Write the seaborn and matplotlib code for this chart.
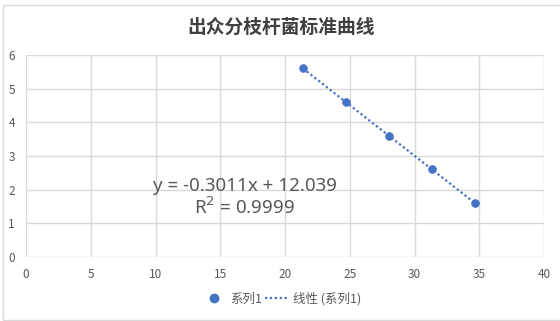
import numpy as np
import pandas as pd
import matplotlib
matplotlib.use("Agg")
import matplotlib.pyplot as plt
from matplotlib.lines import Line2D
from matplotlib.patches import Rectangle
import seaborn as sns

# 数据 (Ct 值 vs log 浓度)
ct_values = [21.38, 24.71, 28.03, 31.35, 34.67]
log_conc = [5.6, 4.6, 3.6, 2.6, 1.6]
x_ticks = [0, 5, 10, 15, 20, 25, 30, 35, 40]
y_ticks = [0, 1, 2, 3, 4, 5, 6]

df = pd.DataFrame({"x": ct_values, "y": log_conc})

sns.set_style("white")
plt.rcParams['font.family'] = ['Noto Sans CJK SC', 'DejaVu Sans']

blue = "#4472c4"
grey = "#595959"

fig = plt.figure(figsize=(5.6, 3.21), dpi=100)
ax = fig.add_axes([26/560, 1 - 257/321, (544 - 26)/560, (257 - 55)/321])

sns.regplot(data=df, x="x", y="y", scatter=False, ci=None, ax=ax,
            line_kws=dict(color=blue, lw=1.6, linestyle=(0, (1, 1.2))))
sns.scatterplot(data=df, x="x", y="y", ax=ax, color=blue, s=32,
                edgecolor=blue, zorder=3)

ax.set_xlim(0, 40)
ax.set_ylim(0, 6)
ax.set_xticks(x_ticks)
ax.set_yticks(y_ticks)
ax.grid(True, color="#d9d9d9", lw=1)
for s in ax.spines.values():
    s.set_visible(False)
ax.tick_params(length=0, labelsize=8.5, colors=grey, pad=8)
ax.set_xlabel("")
ax.set_ylabel("")

# 趋势线公式
ax.text(16.9, 1.77, "y = -0.3011x + 12.039\nR$^2$ = 0.9999", ha="center",
        va="center", fontsize=13.5, color=grey, family="Noto Sans",
        linespacing=1.1)

fig.text(281/560, 1 - 27/321, "出众分枝杆菌标准曲线", ha="center", va="center",
         fontsize=13.5, fontweight="bold", color="#404040")

handles = [Line2D([], [], marker="o", color=blue, linestyle="none", markersize=6),
           Line2D([], [], color=blue, lw=1.6, linestyle=(0, (1, 1.2)))]
fig.legend(handles, ["系列1", "线性 (系列1)"], loc="center",
           bbox_to_anchor=(282/560, 1 - 299/321), ncol=2, frameon=False,
           fontsize=9, labelcolor=grey, handlelength=1.8, columnspacing=0.2,
           handletextpad=0.4)

fig.patches.append(Rectangle((3/560, 0.002), 1, 1 - 5/321 - 0.002,
                             transform=fig.transFigure, fill=False,
                             edgecolor="#d9d9d9", lw=1))

fig.savefig("out.png", dpi=100)
